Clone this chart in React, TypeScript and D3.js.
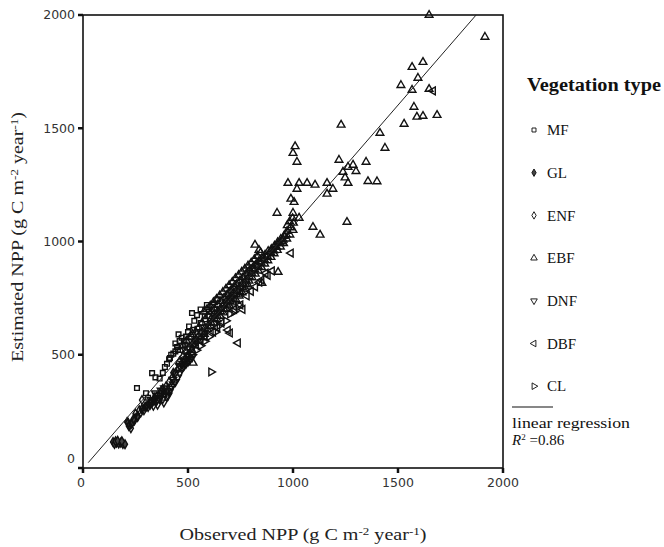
import { useMemo } from 'react';
import * as d3 from 'd3';

// axis ticks
const xTicks = [0, 500, 1000, 1500, 2000];
const yTicks = [0, 500, 1000, 1500, 2000];

// fitted line
const regSlope = 1.07;
const regIntercept = -3;
const regRange = [25, 1872];
const r2Label = '0.86';

const mfPoints = [
  [257, 353], [329, 419], [345, 400], [448, 534], [452, 521], [430, 505], [440, 550], [460, 560],
  [470, 540], [519, 684], [543, 675], [530, 650], [560, 640], [580, 670], [600, 690], [500, 600],
  [490, 580], [480, 560], [410, 480], [420, 500], [390, 446], [414, 486], [300, 330], [310, 310],
  [560, 700], [620, 720], [400, 460], [470, 575], [455, 590], [505, 625], [525, 610], [380, 420],
  [365, 395], [440, 515], [485, 545], [515, 580], [545, 615], [590, 720], [640, 745],
];
const glPoints = [
  [143, 115], [150, 106], [160, 112], [170, 108], [180, 112], [190, 106], [200, 105], [155, 118],
  [165, 120], [185, 118], [210, 203], [224, 190], [248, 221], [235, 200], [218, 185], [240, 215],
  [260, 230], [280, 260], [300, 270], [320, 290], [340, 310], [380, 350], [430, 420],
];
const enfPoints = [
  [230, 195], [245, 210], [260, 225], [275, 245], [290, 255], [305, 275], [320, 290], [335, 300],
  [350, 315], [365, 330], [380, 345], [395, 360], [410, 380], [425, 400], [440, 420], [455, 440],
  [470, 460], [485, 480], [500, 500], [520, 530], [281, 300], [295, 269], [540, 560], [580, 600],
  [250, 240], [268, 255], [215, 200], [228, 176],
];
const ebfPoints = [
  // high values
  [1648, 2000], [1914, 1903], [1567, 1770], [1619, 1792], [1595, 1722], [1567, 1669], [1514, 1690],
  [1648, 1673], [1576, 1594], [1590, 1550], [1619, 1554], [1686, 1558], [1529, 1519], [1229, 1515],
  [1414, 1479], [1438, 1413], [1348, 1351], [1300, 1310], [1248, 1282], [1010, 1420], [1000, 1390],
  [976, 1258], [1029, 1258], [1067, 1258], [1105, 1250], [1162, 1258], [1190, 1232], [1262, 1258],
  [1357, 1266], [1019, 1351], [1219, 1360], [1238, 1307], [1262, 1329], [1286, 1338], [1162, 1210],
  [1019, 1232], [990, 1188], [1005, 1174], [924, 1126], [1000, 1126], [1029, 1104], [1095, 1064],
  [1129, 1029], [1257, 1086], [1400, 1265],
  // dense band
  [1000, 1050], [1002, 1082], [998, 1102], [985, 1030], [988, 1062], [984, 1088], [970, 1012],
  [972, 1046], [968, 1031], [973, 1071], [955, 992], [957, 1024], [953, 1008], [940, 977],
  [942, 1011], [938, 992], [925, 962], [927, 996], [922, 975], [910, 947], [912, 981], [908, 960],
  [895, 931], [897, 966], [893, 952], [880, 916], [882, 957], [878, 935], [865, 902], [867, 941],
  [863, 921], [850, 886], [852, 927], [848, 906], [846, 951], [835, 871], [837, 912], [833, 892],
  [831, 936], [820, 857], [822, 897], [818, 876], [816, 921], [805, 841], [807, 882], [803, 861],
  [801, 906], [790, 826], [792, 871], [788, 804], [786, 893], [791, 846], [775, 812], [777, 857],
  [773, 791], [771, 879], [776, 831], [760, 797], [762, 842], [758, 775], [756, 866], [761, 816],
  [745, 781], [747, 826], [743, 760], [741, 851], [746, 801], [730, 766], [732, 811], [728, 744],
  [726, 837], [731, 786], [715, 751], [717, 796], [713, 730], [711, 821], [716, 772], [700, 736],
  [702, 782], [698, 716], [696, 806], [701, 757], [685, 721], [687, 766], [683, 701], [681, 791],
  [686, 741], [670, 702], [672, 751], [668, 686], [666, 776], [671, 726], [655, 691], [657, 736],
  [653, 671], [651, 761], [656, 706], [640, 671], [642, 721], [638, 656], [636, 746], [641, 692],
  [625, 661], [627, 702], [623, 641], [621, 731], [626, 681], [610, 641], [612, 691], [608, 626],
  [606, 716], [611, 661], [595, 626], [597, 671], [593, 611], [591, 701], [580, 616], [582, 656],
  [578, 591], [576, 690], [565, 601], [567, 641], [563, 576], [550, 581], [552, 621], [548, 561],
  [535, 566], [537, 601], [533, 541], [520, 546], [522, 591], [518, 521], [505, 531], [507, 576],
  [503, 501], [490, 516], [492, 561], [475, 491], [477, 541], [460, 471], [462, 521],
  [524, 464], [819, 985], [838, 962], [852, 817], [929, 865], [948, 1000],
];
const dnfPoints = [
  [310, 270], [320, 280], [330, 290], [340, 300], [350, 295], [360, 310], [370, 320], [380, 305],
  [390, 330], [400, 340], [405, 320], [415, 350], [420, 360], [430, 370], [440, 380], [450, 400],
  [460, 420], [470, 440], [480, 450], [490, 460], [500, 470], [510, 480], [520, 490], [462, 446],
  [475, 460], [485, 470], [495, 480], [505, 490], [350, 320], [365, 305], [325, 300], [345, 330],
  [372, 342], [388, 352], [398, 315], [410, 335], [355, 280], [335, 275], [385, 290], [428, 390],
];
const dbfPoints = [
  [690, 609], [700, 596], [738, 552], [990, 949], [1667, 1665], [640, 620], [660, 640], [720, 700],
  [750, 720], [780, 760], [800, 780], [820, 800], [850, 830], [870, 860], [900, 870], [620, 600],
  [580, 580], [560, 560], [760, 700], [840, 820], [880, 850],
];
const clPoints = [
  [610, 424], [520, 500], [540, 520], [560, 540], [600, 580], [630, 600], [650, 630], [680, 650],
  [700, 680], [720, 690], [740, 720], [480, 470], [500, 490], [580, 560],
];

const groups = [
  { key: 'MF', pts: mfPoints },
  { key: 'GL', pts: glPoints },
  { key: 'ENF', pts: enfPoints },
  { key: 'EBF', pts: ebfPoints },
  { key: 'DNF', pts: dnfPoints },
  { key: 'DBF', pts: dbfPoints },
  { key: 'CL', pts: clPoints },
];

const W = 664;
const H = 547;
const plot = { left: 83, right: 503, top: 15, bottom: 468 };

// marker shape + rotation per group
const markerPath = (key: string) => {
  const tri = d3.symbol().type(d3.symbolTriangle).size(26)() as string;
  switch (key) {
    case 'MF':
      return { d: d3.symbol().type(d3.symbolSquare).size(22)() as string, rot: 0, fill: 'none' };
    case 'GL':
      return { d: d3.symbol().type(d3.symbolDiamond).size(22)() as string, rot: 0, fill: '#444' };
    case 'ENF':
      return { d: d3.symbol().type(d3.symbolDiamond).size(22)() as string, rot: 0, fill: 'none' };
    case 'EBF':
      return { d: tri, rot: 0, fill: 'none' };
    case 'DNF':
      return { d: tri, rot: 180, fill: 'none' };
    case 'DBF':
      return { d: tri, rot: -90, fill: 'none' };
    default:
      return { d: tri, rot: 90, fill: 'none' };
  }
};

const App = () => {
  const x = useMemo(() => d3.scaleLinear().domain([0, 2000]).range([plot.left, plot.right]), []);
  const y = useMemo(() => d3.scaleLinear().domain([0, 2000]).range([plot.bottom, plot.top]), []);

  const regLine = d3.line<number>()
    .x(d => x(d))
    .y(d => y(regIntercept + regSlope * d));

  const serif = '"Liberation Serif", "Times New Roman", serif';
  const sans = '"DejaVu Sans", Verdana, sans-serif';

  const legendTop = 130;
  const legendStep = 42.7;

  return (
    <svg width={W} height={H} style={{ position: 'absolute', left: 0, top: 0, background: 'white' }}>
      {/* frame */}
      <rect x={plot.left} y={plot.top} width={plot.right - plot.left} height={plot.bottom - plot.top}
        fill="none" stroke="#111" strokeWidth={1.6} />

      {/* y ticks */}
      {yTicks.map(t => (
        <g key={'y' + t}>
          <line x1={plot.left - 5} x2={plot.left} y1={y(t)} y2={y(t)} stroke="#111" strokeWidth={2.5} />
          <text x={plot.left - 8} y={y(t) - (t === 0 ? 9 : 0)} dy="0.35em" textAnchor="end"
            fontFamily={sans} fontSize={12.5} fill="#333">{t}</text>
        </g>
      ))}

      {/* x ticks */}
      {xTicks.map(t => (
        <g key={'x' + t}>
          <line x1={x(t)} x2={x(t)} y1={plot.bottom} y2={plot.bottom + 5} stroke="#111" strokeWidth={2.5} />
          <text x={x(t) - (t === 0 ? 2 : 0)} y={plot.bottom + 15} dy="0.35em" textAnchor="middle"
            fontFamily={sans} fontSize={12.5} fill="#333">{t}</text>
        </g>
      ))}

      {/* points */}
      {groups.map(g => {
        const m = markerPath(g.key);
        return (
          <g key={g.key}>
            {g.pts.map((p, i) => (
              <path key={i} d={m.d} transform={`translate(${x(p[0])},${y(p[1])}) rotate(${m.rot})`}
                fill={m.fill} stroke="#111" strokeWidth={1.4} />
            ))}
          </g>
        );
      })}

      {/* regression line */}
      <path d={regLine(regRange) || ''} fill="none" stroke="#222" strokeWidth={1} />

      {/* axis titles */}
      <text x={303} y={540} textAnchor="middle" fontFamily={serif} fontSize={17} fill="#222"
        textLength={247} lengthAdjust="spacingAndGlyphs">
        Observed NPP (g C m<tspan fontSize={11} dy={-5}>-2</tspan>
        <tspan dy={5}> year</tspan><tspan fontSize={11} dy={-5}>-1</tspan><tspan dy={5}>)</tspan>
      </text>
      <text transform="translate(23,237) rotate(-90)" textAnchor="middle" fontFamily={serif} fontSize={17} fill="#222"
        textLength={250} lengthAdjust="spacingAndGlyphs">
        Estimated NPP (g C m<tspan fontSize={11} dy={-5}>-2</tspan>
        <tspan dy={5}> year</tspan><tspan fontSize={11} dy={-5}>-1</tspan><tspan dy={5}>)</tspan>
      </text>

      {/* legend */}
      <text x={527} y={91} fontFamily={serif} fontSize={18} fontWeight="bold" fill="#111"
        textLength={134} lengthAdjust="spacingAndGlyphs">Vegetation type</text>
      {groups.map((g, i) => {
        const m = markerPath(g.key);
        const cy = legendTop + i * legendStep;
        return (
          <g key={'lg' + g.key}>
            <path d={m.d} transform={`translate(534,${cy}) rotate(${m.rot}) scale(0.85)`}
              fill={m.fill} stroke="#111" strokeWidth={1.1} />
            <text x={547} y={cy} dy="0.35em" fontFamily={serif} fontSize={15} fill="#111">{g.key}</text>
          </g>
        );
      })}
      <line x1={512} x2={553} y1={407} y2={407} stroke="#111" strokeWidth={1.2} />
      <text x={512} y={428} fontFamily={serif} fontSize={15.5} fill="#111"
        textLength={118} lengthAdjust="spacingAndGlyphs">linear regression</text>
      <text x={512} y={445} fontFamily={serif} fontSize={15} fill="#111">
        <tspan fontStyle="italic">R</tspan><tspan fontSize={9} dy={-5}>2</tspan><tspan dy={5}> =</tspan>{r2Label}
      </text>
    </svg>
  );
};

export default App;
